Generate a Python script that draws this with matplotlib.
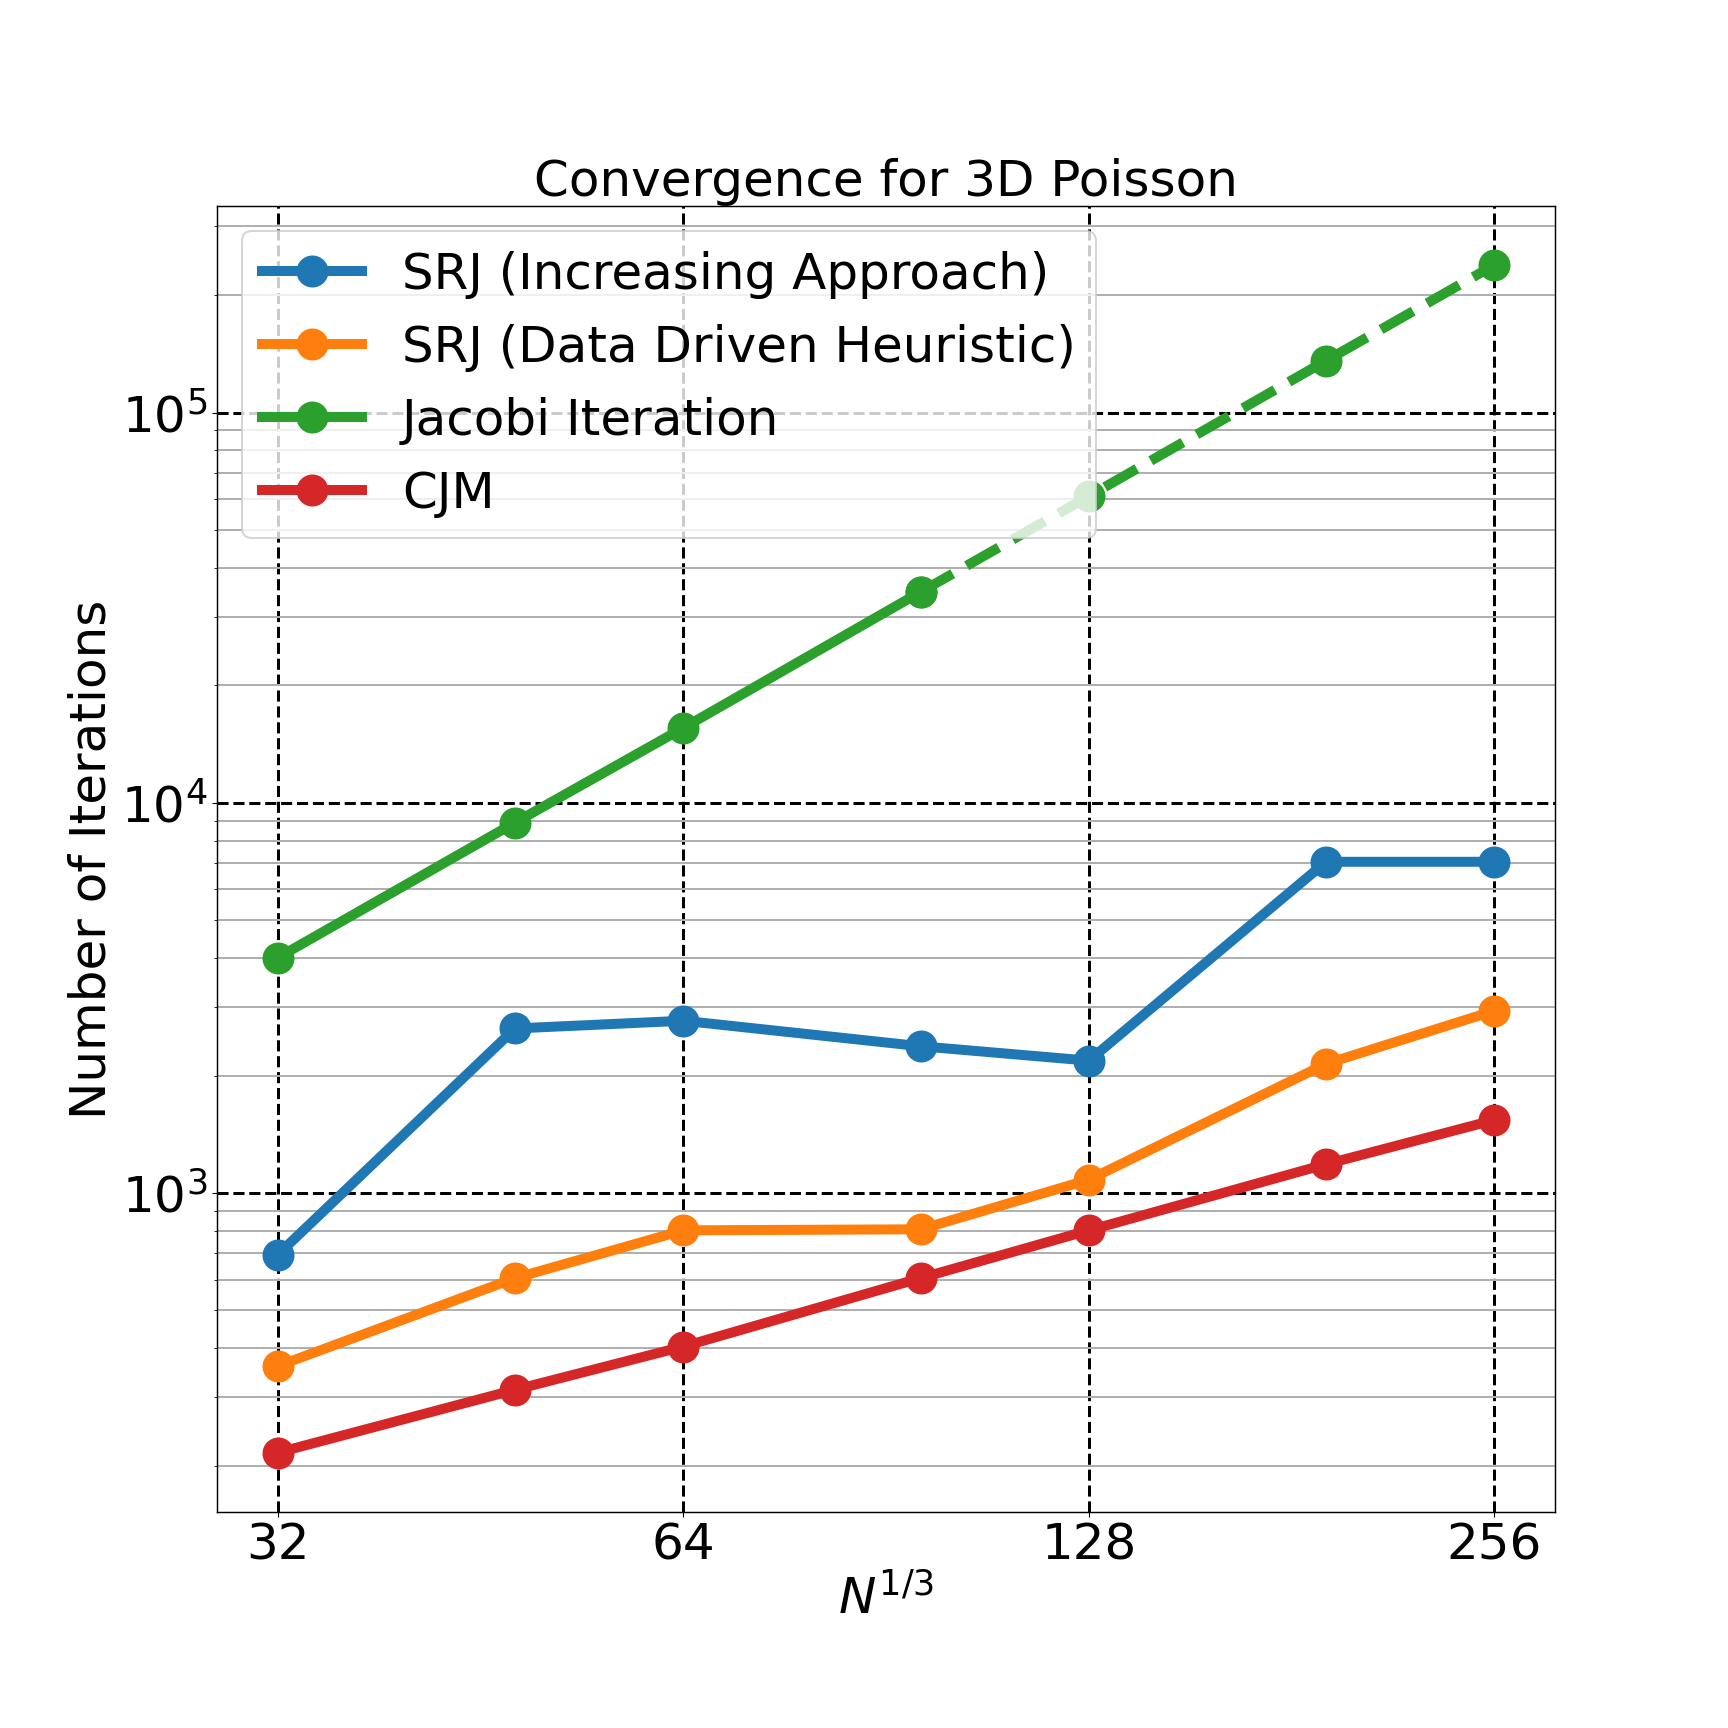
import matplotlib
matplotlib.use("Agg")
import matplotlib.pyplot as plt

N = [32, 48, 64, 96, 128, 192, 256]
xticks = [32, 64, 128, 256]
srj_inc = [695, 2640, 2763, 2377, 2183, 7060, 7060]
srj_ddh = [360, 605, 802, 807, 1081, 2143, 2930]
jacobi = [4010, 8900, 15560, 34700, 61100, 135900, 239000]
cjm = [216, 313, 404, 605, 802, 1185, 1538]
labels = ["SRJ (Increasing Approach)", "SRJ (Data Driven Heuristic)",
          "Jacobi Iteration", "CJM"]

s = 100 / 144.0  # scale for point-based sizes of default styling
plt.rcParams['axes.linewidth'] = 0.8 * s * 1.3

fig = plt.figure(figsize=(12, 12), dpi=144)
ax = fig.add_axes([0.1256, 0.125, 0.7744, 0.756])

lw, ms = 5, 15
ax.plot(N, srj_inc, 'o-', color='C0', lw=lw, ms=ms, label=labels[0])
ax.plot(N, srj_ddh, 'o-', color='C1', lw=lw, ms=ms, label=labels[1])
ax.plot(N[:4], jacobi[:4], 'o-', color='C2', lw=lw, ms=ms, label=labels[2])
ax.plot(N[3:], jacobi[3:], 'o--', color='C2', lw=lw, ms=ms)
ax.plot(N, cjm, 'o-', color='C3', lw=lw, ms=ms, label=labels[3])

ax.set_xscale('log', base=2)
ax.set_yscale('log')
ax.set_xticks(xticks)
ax.set_xticklabels([str(v) for v in xticks])
ax.tick_params(which='major', labelsize=25, length=3.5 * s, pad=3.5 * s,
               width=0.8 * s)
ax.tick_params(which='minor', length=2 * s, width=0.6 * s)

ax.grid(which='major', linestyle='--', color='black', lw=1.5)
ax.grid(which='minor', axis='y', linestyle='-', color='#b0b0b0', lw=1.0)

ax.set_title("Convergence for 3D Poisson", fontsize=25, pad=6 * s)
ax.set_xlabel(r"$N^{1/3}$", fontsize=25, labelpad=4 * s)
ax.set_ylabel("Number of Iterations", fontsize=25, labelpad=4 * s)
ax.legend(loc='upper left', fontsize=25)

fig.savefig("out.png", dpi=144)
